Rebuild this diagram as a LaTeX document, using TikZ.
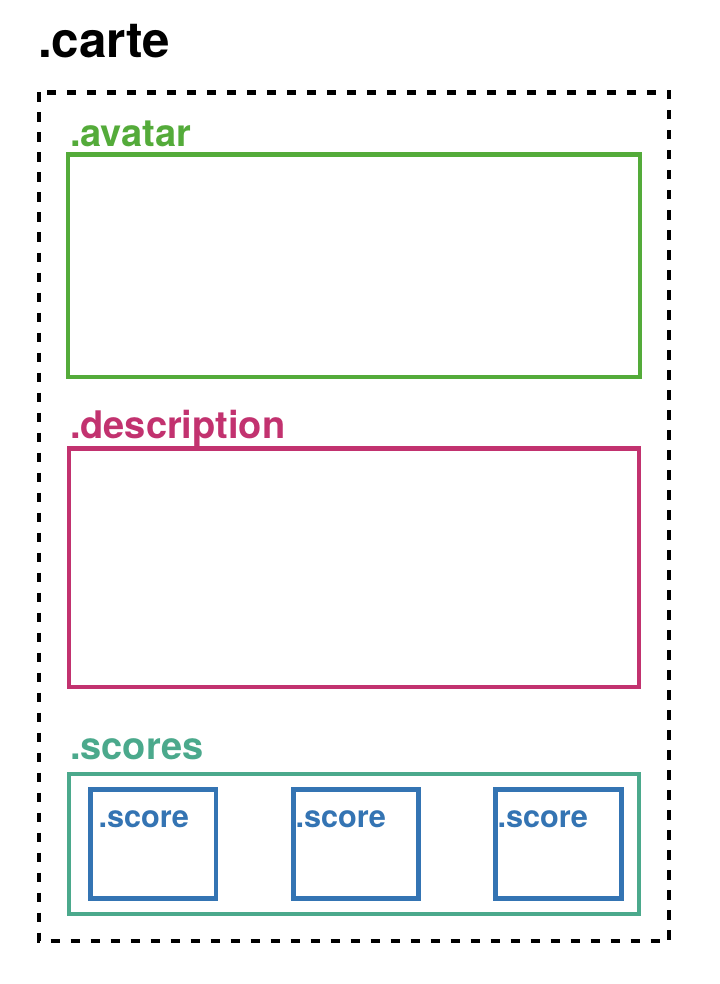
\documentclass[tikz,border=0pt]{standalone}
\usepackage{fontspec}
\setmainfont{TeX Gyre Heros}
\definecolor{cgreen}{HTML}{54AB3A}
\definecolor{cmagenta}{HTML}{C2326F}
\definecolor{cteal}{HTML}{4BA98C}
\definecolor{cblue}{HTML}{3474B3}
\begin{document}
\begin{tikzpicture}[x=0.75pt,y=-0.75pt,
  lbl/.style={anchor=base west,inner sep=0pt,outer sep=0pt,font=\bfseries\fontsize{28.5}{31}\selectfont},
  biglbl/.style={anchor=base west,inner sep=0pt,outer sep=0pt,font=\bfseries\fontsize{37}{41}\selectfont},
  smalllbl/.style={anchor=base west,inner sep=0pt,outer sep=0pt,text=cblue,font=\bfseries\fontsize{23}{26}\selectfont},
  colbox/.style={line width=3.4pt},
  outerbox/.style={line width=3.6pt,dash pattern=on 7pt off 8pt}]
\useasboundingbox[fill=white] (0,0) rectangle (720,984);
% title
\node[biglbl] (carte) at (38,58) {.carte};
\draw[outerbox] (39,92.5) rectangle (669,941);
% avatar
\node[lbl,text=cgreen] (avatarlbl) at (70,147) {.avatar};
\draw[colbox,cgreen] (68,154.5) rectangle (640,377);
% description
\node[lbl,text=cmagenta] (desclbl) at (70,438) {.description};
\draw[colbox,cmagenta] (69,448.5) rectangle (639,687);
% scores
\node[lbl,text=cteal] (scoreslbl) at (70,759) {.scores};
\draw[colbox,cteal] (69,774) rectangle (639,914);
% score boxes
\draw[colbox,cblue] (90.5,789.7) rectangle (216,898.7);
\draw[colbox,cblue] (293.7,789.7) rectangle (418.7,898.7);
\draw[colbox,cblue] (495.5,789.7) rectangle (621.5,898.7);
\node[smalllbl] (score1) at (98.5,827) {.score};
\node[smalllbl] (score2) at (295.5,827) {.score};
\node[smalllbl] (score3) at (497.5,827) {.score};
\end{tikzpicture}
\end{document}
